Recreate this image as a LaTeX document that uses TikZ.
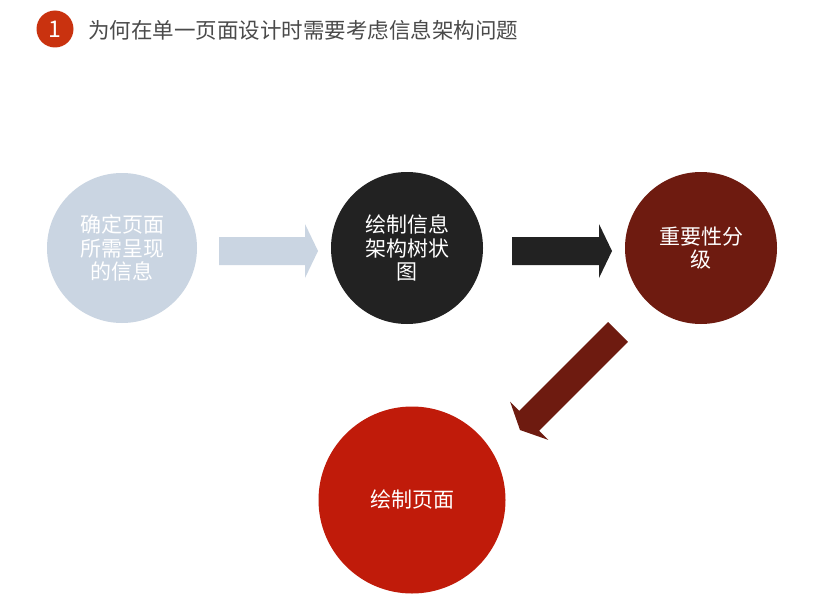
\documentclass[tikz,border=0pt]{standalone}
\usepackage{fontspec}
\setmainfont{Noto Sans CJK SC}
\usetikzlibrary{calc}
\definecolor{cLight}{HTML}{CAD5E2}
\definecolor{cDark}{HTML}{222222}
\definecolor{cMaroon}{HTML}{6E1B10}
\definecolor{cRed}{HTML}{C01B0A}
\definecolor{cBadge}{HTML}{C9320F}
\definecolor{cTitle}{HTML}{4A4A4A}
\tikzset{
  bubble/.style={circle, inner sep=0pt, align=center, text=white,
    font=\fontsize{21}{23.5}\selectfont}
}
% block arrow: #1 start, #2 tip, #3 colour
\newcommand{\blockarr}[3]{%
  \coordinate (tmpC) at ($(#2)!13pt!(#1)$);
  \fill[#3] ($(#1)!14pt!90:(#2)$) -- ($(tmpC)!14pt!90:(#2)$) -- ($(tmpC)!27pt!90:(#2)$)
     -- (#2) -- ($(tmpC)!27pt!-90:(#2)$) -- ($(tmpC)!14pt!-90:(#2)$) -- ($(#1)!14pt!-90:(#2)$) -- cycle;
}
\begin{document}
\begin{tikzpicture}[x=1pt,y=-1pt]
\useasboundingbox (0,0) rectangle (840,602);
\fill[white] (0,0) rectangle (840,602);
% header
\node[circle, fill=cBadge, minimum size=37pt, inner sep=0pt, text=white,
  font=\fontsize{23}{25}\selectfont] (badge) at (55,29) {1};
\node[anchor=west, text=cTitle, inner sep=0pt, font=\fontsize{21.5}{24}\selectfont]
  (title) at (88,30) {为何在单一页面设计时需要考虑信息架构问题};
% circles
\node[bubble, fill=cLight, minimum size=150pt] (n1) at (122,248) {确定页面\\所需呈现\\的信息};
\node[bubble, fill=cDark, minimum size=152pt] (n2) at (407,248) {绘制信息\\架构树状\\图};
\node[bubble, fill=cMaroon, minimum size=152pt] (n3) at (701,248) {重要性分\\级};
\node[bubble, fill=cRed, minimum size=187pt] (n4) at (412,500) {绘制页面};
% arrow endpoints
\coordinate (a1s) at (219,251);
\coordinate (a1e) at (318,251);
\coordinate (a2s) at (512,251);
\coordinate (a2e) at (612,251);
\coordinate (a3s) at (618,332);
\coordinate (a3e) at (520,430);
\blockarr{a1s}{a1e}{cLight}
\blockarr{a2s}{a2e}{cDark}
\blockarr{a3s}{a3e}{cMaroon}
\end{tikzpicture}
\end{document}
